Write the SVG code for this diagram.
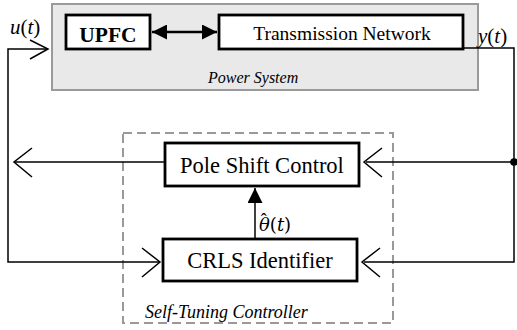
<svg xmlns="http://www.w3.org/2000/svg" width="517" height="330" viewBox="0 0 517 330">
<defs>
<style>
.blk{fill:#fff;stroke:#000;stroke-width:2.8}
.ln{fill:none;stroke:#000;stroke-width:1.5}
.chev{fill:none;stroke:#000;stroke-width:1.5}
.t{font-family:"Liberation Serif","Times New Roman",serif;fill:#000}
.it{font-style:italic}
.m{font-family:"DejaVu Serif","Liberation Serif",serif;fill:#000}
</style>
<marker id="fa" viewBox="0 0 10 10" refX="10" refY="5" markerWidth="6" markerHeight="6" orient="auto-start-reverse" markerUnits="strokeWidth">
<path d="M0,0 L10,5 L0,10 Z" fill="#000"/>
</marker>
<marker id="fb" viewBox="0 0 10 10" refX="10" refY="5" markerWidth="10" markerHeight="10" orient="auto" markerUnits="strokeWidth">
<path d="M0,0 L10,5 L0,10 Z" fill="#000"/>
</marker>
</defs>
<rect width="517" height="330" fill="#fff"/>

<g id="power-system">
<rect x="52" y="4" width="426" height="86" fill="#e9e9e9" stroke="#9a9a9a" stroke-width="2"/>
<text class="t it" x="208" y="83" font-size="16">Power System</text>
</g>

<g id="self-tuning-controller">
<rect x="123" y="133" width="270" height="190" fill="none" stroke="#999" stroke-width="2" stroke-dasharray="9,5"/>
<text class="t it" x="145" y="318" font-size="18">Self-Tuning Controller</text>
</g>

<g id="upfc">
<rect class="blk" x="66" y="15" width="84" height="34"/>
<text class="t" x="108" y="42" font-size="21.5" font-weight="bold" text-anchor="middle">UPFC</text>
</g>

<g id="transmission-network">
<rect class="blk" x="219" y="15" width="244" height="34"/>
<text class="t" x="342" y="40" font-size="19.5" text-anchor="middle">Transmission Network</text>
</g>

<g id="pole-shift-control">
<rect class="blk" x="165" y="143" width="194" height="43"/>
<text class="t" x="262" y="173" font-size="22.5" text-anchor="middle">Pole Shift Control</text>
</g>

<g id="crls-identifier">
<rect class="blk" x="163" y="239" width="194" height="42"/>
<text class="t" x="260" y="268" font-size="22.5" text-anchor="middle">CRLS Identifier</text>
</g>

<g id="connectors">
<line x1="152" y1="32" x2="217" y2="32" stroke="#000" stroke-width="2.5" marker-start="url(#fa)" marker-end="url(#fa)"/>
<polyline class="ln" points="463,48 514,48 514,262 364,262"/>
<line class="ln" x1="514" y1="162" x2="366" y2="162"/>
<circle cx="514" cy="162" r="3.8" fill="#000"/>
<polyline class="chev" points="382,148 364,162 382,177"/>
<polyline class="chev" points="380,248 362,262 380,277"/>
<line class="ln" x1="165" y1="162" x2="14" y2="162"/>
<polyline class="chev" points="32,148 14,162 32,177"/>
<polyline class="ln" points="48,49 8,49 8,262 159,262"/>
<polyline class="chev" points="30,40 48,49 30,59"/>
<polyline class="chev" points="142,248 160,262 142,277"/>
<line x1="255" y1="239" x2="255" y2="188" stroke="#000" stroke-width="1.5" marker-end="url(#fb)"/>
</g>

<g id="labels">
<text class="t" x="10" y="34" font-size="21"><tspan font-style="italic">u</tspan>(<tspan font-style="italic">t</tspan>)</text>
<text class="t" x="478" y="43" font-size="21"><tspan font-style="italic">y</tspan>(<tspan font-style="italic">t</tspan>)</text>
<text class="m" x="259" y="231" font-size="18"><tspan font-style="italic">θ</tspan><tspan font-family="Liberation Serif, serif" dx="-9" dy="-5">ˆ</tspan><tspan dx="3" dy="5">(</tspan><tspan font-style="italic">t</tspan>)</text>
</g>
</svg>
